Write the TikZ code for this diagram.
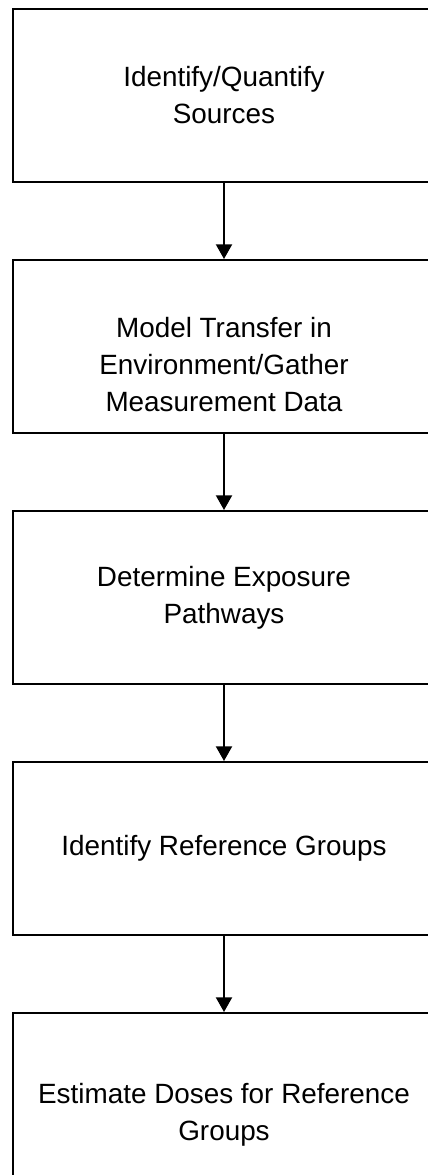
\documentclass[tikz,border=0pt]{standalone}
\usepackage{fontspec}
\setmainfont{Liberation Sans}
\usetikzlibrary{arrows.meta, positioning}

\begin{document}
\begin{tikzpicture}[
    x=0.75pt, y=-0.75pt,
    font=\fontsize{20.9}{27.8}\selectfont,
    >={Triangle[width=12pt, length=11pt]},
    node distance=57pt,
    stepbox/.style={
        rectangle,
        draw=black, line width=1.5pt,
        fill=white,
        minimum width=316.5pt, minimum height=129.75pt,
        inner sep=0pt, align=center,
    },
    flow/.style={->, line width=1.5pt, black},
]

\useasboundingbox (0,0) rectangle (428,1175);

% =====================================================================
% STEPS — one column, top to bottom
% =====================================================================

\node[stepbox] (sources) at (224, 95.5) {Identify/Quantify\\Sources};
\node[stepbox, below=of sources,
      label={[align=center, yshift=-13.5pt]center:{Model Transfer in\\Environment/Gather\\Measurement Data}}]
      (transfer) {};
\node[stepbox, below=of transfer] (pathways) {Determine Exposure\\Pathways};
\node[stepbox, below=of pathways]  (groups)   {Identify Reference Groups};
\node[stepbox, below=of groups, minimum height=152.25pt] (doses)
      {Estimate Doses for Reference\\Groups};

% =====================================================================
% ARROWS
% =====================================================================

\draw[flow] (sources)  -- (transfer);
\draw[flow] (transfer) -- (pathways);
\draw[flow] (pathways) -- (groups);
\draw[flow] (groups)   -- (doses);

\end{tikzpicture}
\end{document}
